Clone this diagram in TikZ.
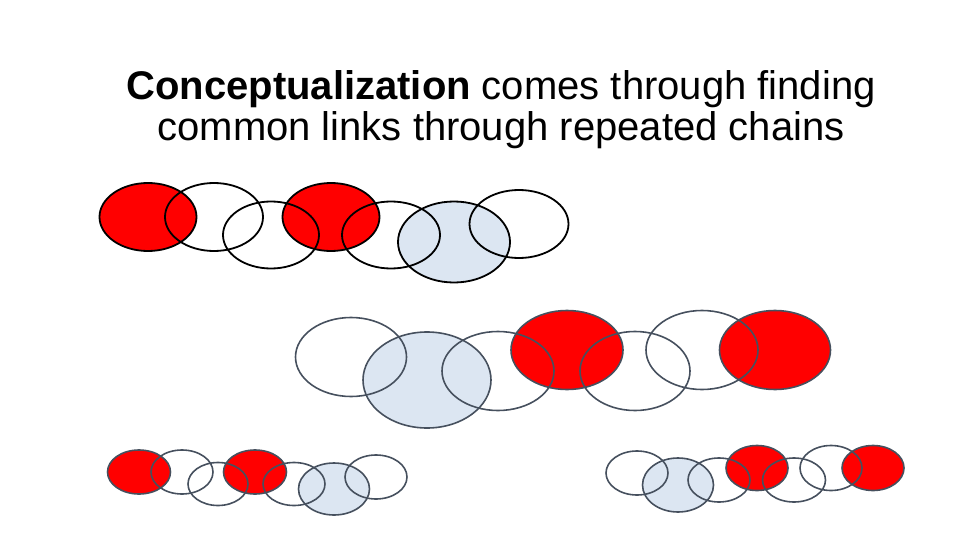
\documentclass[tikz,border=0pt]{standalone}
\usepackage{fontspec}
\setmainfont{Liberation Sans}
\usepackage{xcolor}
\usetikzlibrary{shapes.geometric}
\definecolor{linkred}{HTML}{FF0000}
\definecolor{linkblue}{HTML}{DCE6F2}
\definecolor{linkgray}{HTML}{46505E}

\begin{document}
\begin{tikzpicture}[
  x=1pt, y=-1pt,
  ring/.style={ellipse, inner sep=0pt, outer sep=0pt, line width=1.6pt, draw=linkgray},
  redring/.style={ring, fill=linkred},
  bluering/.style={ring, fill=linkblue},
  firstrow/.style={draw=black, line width=1.8pt}
]
  \useasboundingbox (0,0) rectangle (960,540);

  \node[inner sep=0pt] (title) at (501,112)
    {\fontsize{40}{40}\selectfont\begin{tabular}{@{}c@{}}
      \textbf{Conceptualization} comes through finding\\
      common links through repeated chains
    \end{tabular}};

  % first chain
  \node[redring, firstrow, minimum width=97pt, minimum height=68pt] (a1) at (148,217) {};
  \node[redring, firstrow, minimum width=97pt, minimum height=68pt] (a4) at (331,217) {};
  \node[bluering, firstrow, minimum width=112pt, minimum height=81pt] (a6) at (454,242) {};
  \node[ring, firstrow, minimum width=98pt, minimum height=68pt] (a2) at (214,217) {};
  \node[ring, firstrow, minimum width=96pt, minimum height=67pt] (a3) at (271,235) {};
  \node[ring, firstrow, minimum width=98pt, minimum height=67pt] (a5) at (391,235) {};
  \node[ring, firstrow, minimum width=99pt, minimum height=68pt] (a7) at (519,224) {};

  % second chain
  \node[bluering, minimum width=128pt, minimum height=96pt] (b2) at (427,380) {};
  \node[redring, minimum width=112pt, minimum height=79pt] (b4) at (567,350) {};
  \node[redring, minimum width=111pt, minimum height=79pt] (b7) at (775,350) {};
  \node[ring, minimum width=111pt, minimum height=79pt] (b1) at (351,357) {};
  \node[ring, minimum width=112pt, minimum height=79pt] (b3) at (498,371) {};
  \node[ring, minimum width=110pt, minimum height=79pt] (b5) at (635,371) {};
  \node[ring, minimum width=112pt, minimum height=79pt] (b6) at (702,350) {};

  % third chain
  \node[redring, minimum width=63pt, minimum height=44pt] (c1) at (139,472) {};
  \node[redring, minimum width=63pt, minimum height=44pt] (c4) at (255,472) {};
  \node[bluering, minimum width=71pt, minimum height=52pt] (c6) at (334,489) {};
  \node[ring, minimum width=62pt, minimum height=44pt] (c2) at (182,472) {};
  \node[ring, minimum width=60pt, minimum height=43pt] (c3) at (218,484) {};
  \node[ring, minimum width=62pt, minimum height=43pt] (c5) at (294,484) {};
  \node[ring, minimum width=62pt, minimum height=44pt] (c7) at (376,477) {};

  % fourth chain
  \node[bluering, minimum width=71pt, minimum height=54pt] (d2) at (678,485) {};
  \node[redring, minimum width=62pt, minimum height=45pt] (d4) at (757,468) {};
  \node[redring, minimum width=62pt, minimum height=45pt] (d7) at (873,468) {};
  \node[ring, minimum width=62pt, minimum height=44pt] (d1) at (637,473) {};
  \node[ring, minimum width=62pt, minimum height=44pt] (d3) at (719,480) {};
  \node[ring, minimum width=63pt, minimum height=44pt] (d5) at (794,480) {};
  \node[ring, minimum width=62pt, minimum height=45pt] (d6) at (831,468) {};
\end{tikzpicture}
\end{document}
